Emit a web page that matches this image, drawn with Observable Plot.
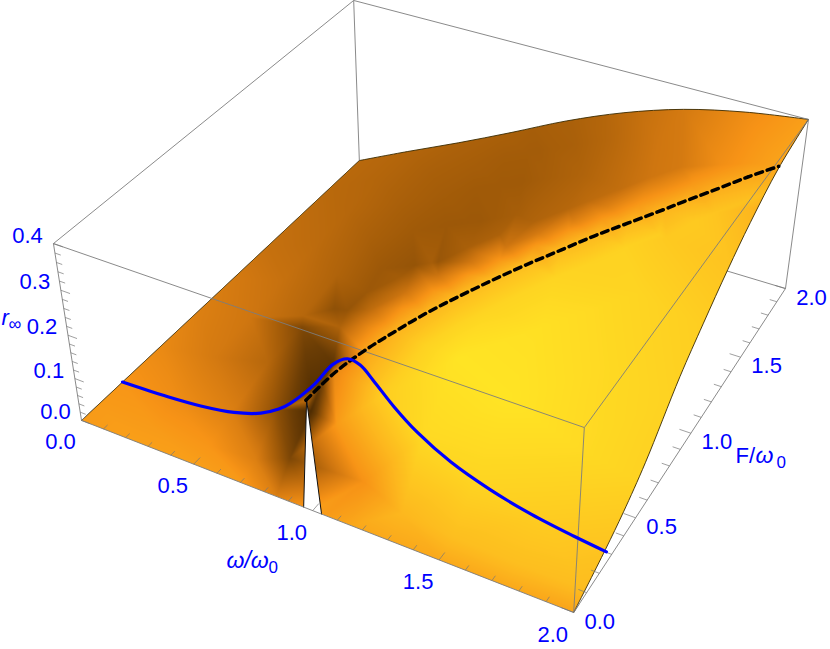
<!DOCTYPE html><html><head><meta charset="utf-8">
<script src="https://cdn.jsdelivr.net/npm/d3@7"></script>
<script src="https://cdn.jsdelivr.net/npm/@observablehq/plot@0.6"></script>
<style>html,body{margin:0;background:#fff}svg{display:block}</style></head><body>
<div id="chart"></div>
<script>
// Surface samples
const omegaGrid=[0,.25,.5,.7,.85,.95,1,1.05,1.15,1.3,1.5,1.75,2];
const forceGrid=[0,.1,.25,.5,.75,1,1.25,1.5,1.75,2];
const rRows=[
[0,0,0,0,0,0,0,0,0,0,0,0,0],
[0,0,.005,.015,.05,.18,.25,.17,.06,.02,.01,.005,.005],
[0,.008,.027,.075,.155,.23,.25,.25,.2,.135,.08,.045,.028],
[0,.02,.055,.105,.16,.2,.225,.245,.262,.22,.165,.115,.085],
[0,.03,.08,.13,.17,.195,.21,.225,.26,.28,.24,.195,.175],
[0,.04,.095,.145,.18,.205,.22,.23,.26,.295,.305,.275,.25],
[0,.05,.105,.155,.195,.22,.23,.245,.27,.3,.32,.317,.305],
[0,.055,.115,.165,.205,.23,.24,.255,.28,.31,.335,.35,.35],
[0,.06,.12,.17,.21,.235,.25,.26,.285,.32,.345,.37,.38],
[0,.062,.122,.172,.215,.24,.25,.262,.29,.32,.35,.38,.4]];
const shadeRows=[
[.68,.7,.7,.68,.55,.65,.7,.68,.73,.74,.74,.74,.72],
[.68,.68,.66,.55,.25,.08,.2,.68,.65,.8,.83,.83,.82],
[.66,.62,.55,.3,.12,.15,.4,.68,.9,.95,.93,.89,.85],
[.6,.52,.42,.22,.18,.22,.3,.5,.82,1,1,.96,.92],
[.55,.5,.42,.32,.3,.31,.31,.33,.55,.93,.98,.95,.92],
[.52,.47,.4,.34,.32,.33,.33,.34,.4,.62,.92,.93,.9],
[.47,.44,.38,.35,.34,.34,.34,.35,.37,.42,.68,.88,.85],
[.45,.42,.38,.36,.35,.35,.35,.35,.37,.4,.5,.76,.78],
[.43,.41,.38,.37,.36,.36,.36,.37,.38,.42,.5,.66,.72],
[.43,.41,.39,.38,.37,.38,.38,.39,.41,.46,.52,.62,.7]];
// Blue curve at F = 0.25
const blueForce=.25;
const blueOmega=[0,.21,.36,.51,.63,.71,.76,.87,.95,1.01,1.06,1.11,1.19,1.28,1.41,1.56,1.72,1.88,2];
const blueR=[0,.006,.014,.029,.052,.078,.101,.168,.228,.252,.248,.224,.181,.142,.102,.072,.05,.036,.028];
// Dashed ridge
const ridgeForce=[0,.16,.3,.43,.56,.68,.8,.91,1.03,1.14,1.25,1.36,1.42,1.53,1.63,1.72];
const ridgeOmega=[1,1.013,1.044,1.089,1.146,1.21,1.281,1.352,1.436,1.515,1.6,1.69,1.74,1.83,1.91,1.99];
const ridgeR=[.251,.254,.257,.262,.27,.278,.287,.296,.306,.316,.325,.336,.343,.354,.364,.373];
const ridgeShade=[.45,.6,.72,.78,.8,.82,.83,.83,.82,.81,.8,.79,.78,.76,.74,.72];
// Shading in bands beside the ridge, for ridge points from F = 0.43 upward
const bandShift=[-.1,-.22,-.38,.12];
const bandDrop=[.008,.03,.06,.006];
const bandShades=[
[.6,.65,.68,.68,.68,.68,.68,.68,.68,.68,.68,.68,.68],
[.4,.45,.49,.5,.5,.5,.52,.54,.56,.58,.6,.62,.63],
[.26,.3,.34,.36,.37,.38,.39,.4,.42,.44,.46,.5,.52],
[.92,.93,.93,.93,.93,.92,.92,.9,.88,.86,.84,.8,.78]];
// Surface edges
const rightForce=[0,.24,.38,.55,.82,1.01,1.22,1.42,1.69,2];
const rightR=[0,.038,.065,.108,.2,.25,.3,.34,.38,.4];
const backOmega=[0,.25,.5,.75,1,1.25,1.5,1.75,2];
const backR=[0,.062,.122,.185,.25,.306,.35,.38,.4];
const slitOmega=[.963,1.003,1.036];
const slitR=[0,.253,0];
// Axis ticks
const omegaTicks=[0,.5,1,1.5,2],forceTicks=[0,.5,1,1.5,2],rTicks=[0,.1,.2,.3,.4];
const omegaLabels=["0.0","0.5","1.0","1.5","2.0"],forceLabels=["0.0","0.5","1.0","1.5","2.0"],rLabels=["0.0","0.1","0.2","0.3","0.4"];

// Camera: least squares fit from box corners
const cam=[[0,0,0,81,420],[2,0,0,573,612],[2,2,0,785,288],[0,2,0,359,160],[0,0,.4,53,243],[2,0,.4,584,427],[2,2,.4,808,119],[0,2,.4,353,0]];
function solve(A,b){const n=b.length,M=A.map((r,i)=>[...r,b[i]]);for(let i=0;i<n;i++){let p=i;for(let k=i;k<n;k++)if(Math.abs(M[k][i])>Math.abs(M[p][i]))p=k;[M[i],M[p]]=[M[p],M[i]];for(let k=0;k<n;k++)if(k!==i){const f=M[k][i]/M[i][i];for(let j=i;j<=n;j++)M[k][j]-=f*M[i][j]}}return M.map((r,i)=>r[n]/r[i]);}
const R=[],S=[];for(const [w,f,r,x,y] of cam){R.push([w,f,r,1,0,0,0,0,-x*w,-x*f,-x*r]);S.push(x);R.push([0,0,0,0,w,f,r,1,-y*w,-y*f,-y*r]);S.push(y);}
const p=solve(d3.range(11).map(i=>d3.range(11).map(j=>d3.sum(R,q=>q[i]*q[j]))),d3.range(11).map(i=>d3.sum(R,(q,k)=>q[i]*S[k])));
const sx=(w,f,r)=>(p[0]*w+p[1]*f+p[2]*r+p[3])/(p[8]*w+p[9]*f+p[10]*r+1);
const sy=(w,f,r)=>(p[4]*w+p[5]*f+p[6]*r+p[7])/(p[8]*w+p[9]*f+p[10]*r+1);
const X=d=>sx(d[0],d[1],d[2]),Y=d=>sy(d[0],d[1],d[2]);

const sample=(w,f,r,v)=>({x:sx(w,f,r),y:sy(w,f,r),v});
const ridgeAt=d3.scaleLinear(ridgeForce,ridgeOmega);
const nearRidge=(w,f)=>f>=.4&&f<=1.75&&w>ridgeAt(f)-.45&&w<ridgeAt(f)+.15;
const samples=forceGrid.flatMap((f,i)=>omegaGrid.flatMap((w,j)=>nearRidge(w,f)?[]:[sample(w,f,rRows[i][j],shadeRows[i][j])]))
 .concat(ridgeForce.map((f,i)=>sample(ridgeOmega[i],f,ridgeR[i],ridgeShade[i])))
 .concat(bandShades.flatMap((vals,b)=>vals.map((v,k)=>sample(ridgeOmega[k+3]+bandShift[b],ridgeForce[k+3],ridgeR[k+3]-bandDrop[b],v))));
const rightEdge=rightForce.map((f,i)=>[2,f,rightR[i]]);
const backEdge=backOmega.map((w,i)=>[w,2,backR[i]]);
const blue=blueOmega.map((w,i)=>[w,blueForce,blueR[i]]);
const ridge=ridgeForce.map((f,i)=>[ridgeOmega[i],f,ridgeR[i]]);
const slit=slitOmega.map((w,i)=>[w,0,slitR[i]]);
const leftEdge=[[0,0,0],[0,2,0]],bottomA=[[0,0,0],slit[0]],bottomB=[slit[2],[2,0,0]];
const hiddenEdges=[[[2,2,0],[0,2,0]],[[0,2,0],[0,0,0]]];
const boxEdges=[[[0,0,.4],[2,0,.4]],[[2,0,.4],[2,2,.4]],[[2,2,.4],[0,2,.4]],[[0,2,.4],[0,0,.4]],[[0,0,0],[0,0,.4]],[[2,0,0],[2,0,.4]],[[2,2,0],[2,2,.4]],[[0,2,0],[0,2,.4]],[[0,0,0],[2,0,0]],[[2,0,0],[2,2,0]]];
const seg=d=>({x1:e=>X(e[0]),y1:e=>Y(e[0]),x2:e=>X(e[1]),y2:e=>Y(e[1]),...d});
const tickSegs=[];
for(const t of d3.range(0,21)){const w=t/10,M=t%5===0;tickSegs.push([[w,0,0],[w,M?.04:.025,0]]);}
for(const t of d3.range(0,21)){const f=t/10,M=t%5===0;tickSegs.push([[2,f,0],[M?1.955:1.97,f,0]]);}
for(const t of d3.range(0,21)){const r=t/50,M=t%5===0;tickSegs.push([[0,0,r],[M?.04:.025,0,r]]);}
const labelText=(vals,labs,fn,dx,dy)=>Plot.text(vals.map((v,i)=>({t:labs[i],p:fn(v)})),{x:d=>X(d.p),y:d=>Y(d.p),text:"t",dx,dy,fill:"#0000ff",fontSize:22,textAnchor:"middle",lineAnchor:"middle"});
const word=(t,x,y,size,style)=>Plot.text([t],{x:()=>x,y:()=>y,text:d=>d,fill:"#0000ff",fontSize:size,fontStyle:style,textAnchor:"start",lineAnchor:"middle"});

const plot=Plot.plot({width:830,height:649,margin:0,
 style:{background:"#fff",fontFamily:"'Liberation Sans',Arial,sans-serif"},
 x:{domain:[0,830],axis:null},y:{domain:[649,0],axis:null},
 color:{type:"linear",domain:[0,.2,.35,.5,.65,.8,1],range:["#3a2000","#6b3d05","#a05a08","#cf7610","#f79316","#fdb81e","#ffe424"]},
 marks:[
  Plot.link(hiddenEdges,seg({stroke:"#7d7d7d",strokeWidth:.9})),
  Plot.raster(samples,{x:"x",y:"y",fill:"v",interpolate:"barycentric",pixelSize:1,width:830,height:649}),
  Plot.line(rightEdge,{x:X,y:Y,stroke:"#3a2a00",strokeWidth:.9,curve:"catmull-rom"}),
  Plot.line(backEdge,{x:X,y:Y,stroke:"#3a2a00",strokeWidth:.9,curve:"catmull-rom"}),
  Plot.line(leftEdge,{x:X,y:Y,stroke:"#3a2a00",strokeWidth:.7}),
  Plot.line(slit,{x:X,y:Y,stroke:"#111",strokeWidth:1}),
  Plot.link(boxEdges,seg({stroke:"#7d7d7d",strokeWidth:.9})),
  Plot.link(tickSegs,seg({stroke:"#777",strokeWidth:.7})),
  Plot.line(ridge,{x:X,y:Y,stroke:"#000",strokeWidth:3.5,strokeDasharray:"6.8 5",curve:"catmull-rom"}),
  Plot.line(blue,{x:X,y:Y,stroke:"#0000ff",strokeWidth:3.2,curve:"catmull-rom"}),
  labelText(omegaTicks,omegaLabels,w=>[w,0,0],-21,22),
  labelText(forceTicks,forceLabels,f=>[2,f,0],26,9),
  labelText(rTicks,rLabels,r=>[0,0,r],-26,-8),
  word("r",1,317,22,"italic"),word("∞",8,324,18,"normal"),
  word("ω/ω",226,560,23,"italic"),word("0",268,567,17,"normal"),
  word("F/",735,455,22,"normal"),word("ω",755,455,23,"italic"),word("0",776,462,17,"normal")
 ]});
// clip raster to the surface outline
const toPt=d=>[plot.scale("x").apply(X(d)),plot.scale("y").apply(Y(d))];
const cat=d3.line().curve(d3.curveCatmullRom);
const lin=d3.line();
const dPath=lin([toPt(bottomA[0]),toPt(slit[0]),toPt(slit[1]),toPt(slit[2]),toPt(bottomB[1])])
 +cat(rightEdge.map(toPt)).replace(/^M/,"L")+cat(backEdge.slice().reverse().map(toPt)).replace(/^M/,"L")+"Z";
const svg=d3.select(plot);
svg.append("defs").append("clipPath").attr("id","surf").append("path").attr("d",dPath);
svg.select("image").attr("clip-path","url(#surf)");
document.getElementById("chart").append(plot);
</script></body></html>
